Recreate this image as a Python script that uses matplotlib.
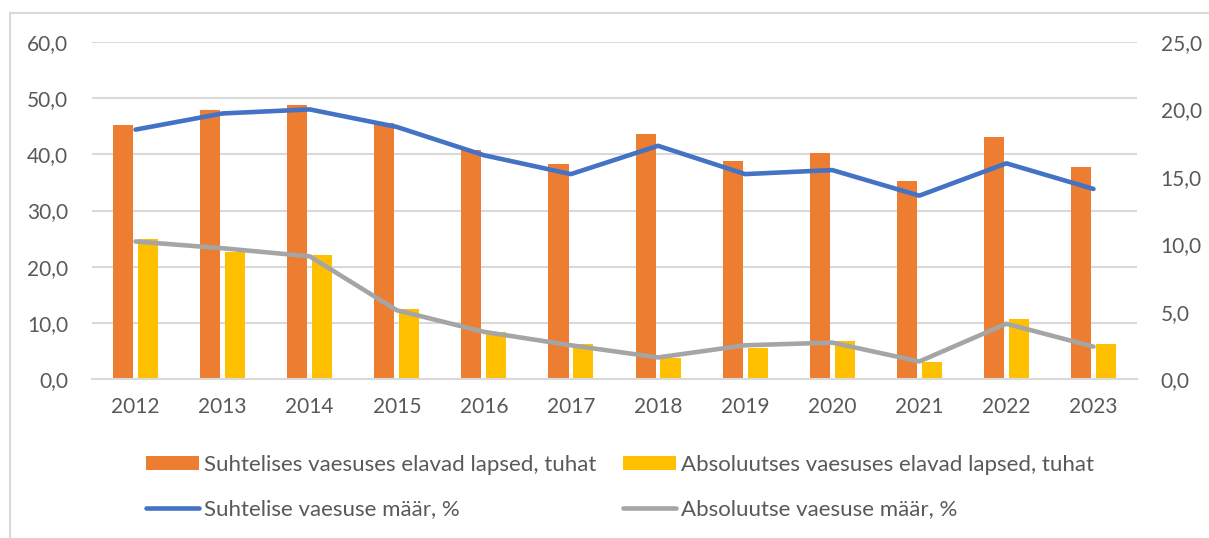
import matplotlib
matplotlib.use("Agg")
import matplotlib.pyplot as plt
from matplotlib.ticker import FuncFormatter, MultipleLocator
from matplotlib.patches import Patch
from matplotlib.lines import Line2D
import numpy as np

years = ["2012", "2013", "2014", "2015", "2016", "2017",
         "2018", "2019", "2020", "2021", "2022", "2023"]
rel_children = [45.2, 47.9, 48.7, 45.6, 40.8, 38.2, 43.7, 38.9, 40.2, 35.3, 43.1, 37.7]
abs_children = [24.9, 22.7, 22.1, 12.5, 8.3, 6.3, 3.8, 5.6, 6.7, 3.1, 10.6, 6.3]
rel_rate = [18.5, 19.7, 20.0, 18.7, 16.6, 15.2, 17.3, 15.2, 15.5, 13.6, 16.0, 14.1]
abs_rate = [10.2, 9.7, 9.1, 5.1, 3.5, 2.5, 1.6, 2.5, 2.7, 1.3, 4.1, 2.4]

labels = ["Suhtelises vaesuses elavad lapsed, tuhat",
          "Absoluutses vaesuses elavad lapsed, tuhat",
          "Suhtelise vaesuse määr, %",
          "Absoluutse vaesuse määr, %"]

ORANGE = "#ED7D31"
YELLOW = "#FFC000"
BLUE = "#4472C4"
GRAY = "#A5A5A5"
GRID = "#D9D9D9"
TEXT = "#595959"

plt.rcParams['font.family'] = ['Lato', 'DejaVu Sans']
FS = 15
LEG_FS = 16

fig = plt.figure(figsize=(12.09, 5.38), dpi=100)
ax = fig.add_axes([92 / 1209, 1 - 379 / 538, (1137 - 92) / 1209, (379 - 42) / 538])
ax2 = ax.twinx()

x = np.arange(len(years))
w = 0.23
off = 0.143
ax.bar(x - off, rel_children, width=w, color=ORANGE, zorder=2)
ax.bar(x + off, abs_children, width=w, color=YELLOW, zorder=2)

ax2.plot(x, rel_rate, color=BLUE, lw=3.3, solid_capstyle='round', solid_joinstyle='round')
ax2.plot(x, abs_rate, color=GRAY, lw=3.3, solid_capstyle='round', solid_joinstyle='round')

fmt = FuncFormatter(lambda v, p: f"{v:.1f}".replace(".", ","))

ax.set_xlim(-0.5, len(years) - 0.5)
ax.set_ylim(0, 60)
ax.yaxis.set_major_locator(MultipleLocator(10))
ax.yaxis.set_major_formatter(fmt)
ax2.set_ylim(0, 25)
ax2.yaxis.set_major_locator(MultipleLocator(5))
ax2.yaxis.set_major_formatter(fmt)

ax.set_xticks(x)
ax.set_xticklabels(years)
ax.grid(axis='y', color=GRID, lw=1.5, zorder=0)
ax.set_axisbelow(True)

for a in (ax, ax2):
    for s in a.spines.values():
        s.set_visible(False)
    a.tick_params(length=0, labelsize=FS, labelcolor=TEXT)
ax.spines['bottom'].set_visible(True)
ax.spines['bottom'].set_color(GRID)
ax.spines['bottom'].set_linewidth(1.5)
ax.tick_params(axis='y', pad=17)
ax.tick_params(axis='x', pad=13)
ax2.tick_params(axis='y', pad=17)

# legend, one entry per slot
handles = [Patch(facecolor=ORANGE), Patch(facecolor=YELLOW),
           Line2D([], [], color=BLUE, lw=3.3, solid_capstyle='round'),
           Line2D([], [], color=GRAY, lw=3.3, solid_capstyle='round')]
spots = [(146, 465), (623, 465), (146, 509), (623, 509)]
for h, lab, (px, py) in zip(handles, labels, spots):
    leg = fig.legend([h], [lab], loc='center left',
                     bbox_to_anchor=(px / 1209, 1 - py / 538),
                     frameon=False, fontsize=LEG_FS, borderpad=0, borderaxespad=0,
                     handlelength=52 / 22, handleheight=0.57, handletextpad=0.25)
    for t in leg.get_texts():
        t.set_color(TEXT)

# chart border (partially cropped)
fig.add_artist(Line2D([10 / 1209, 10 / 1209], [0, 1 - 13 / 538], color=GRID, lw=1.5))
fig.add_artist(Line2D([10 / 1209, 1], [1 - 13 / 538, 1 - 13 / 538], color=GRID, lw=1.5))

fig.savefig("out.png", dpi=100)
